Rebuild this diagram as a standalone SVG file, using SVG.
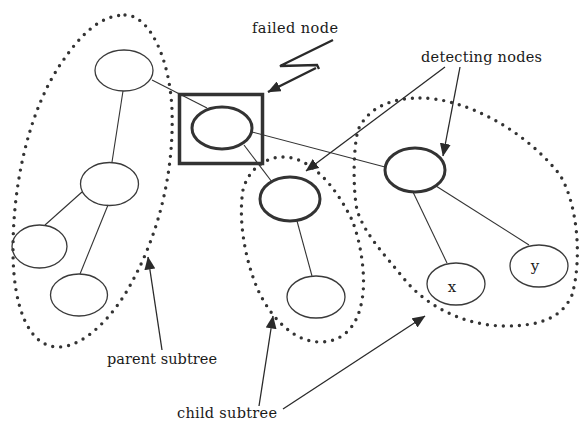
<svg xmlns="http://www.w3.org/2000/svg" width="584" height="421" viewBox="0 0 584 421">
  <style>
    .bg { fill: #ffffff; }
    .node { fill: none; stroke: #3a3a3a; stroke-width: 1.3; }
    .node-bold { fill: none; stroke: #333333; stroke-width: 3; }
    .edge { fill: none; stroke: #333333; stroke-width: 1.1; }
    .pointer { fill: none; stroke: #2a2a2a; stroke-width: 1.3; }
    .subtree { fill: none; stroke: #333333; stroke-width: 3.4; stroke-linecap: round; stroke-dasharray: 0 8; }
    .frame { fill: none; stroke: #333333; stroke-width: 3.5; }
    .bolt { fill: none; stroke: #2a2a2a; stroke-width: 2.4; stroke-linejoin: miter; }
    .label { font-family: "DejaVu Serif", "Liberation Serif", serif; font-size: 14.5px; fill: #1a1a1a; }
    .var { font-family: "DejaVu Serif", "Liberation Serif", serif; font-size: 15px; fill: #1a1a1a; text-anchor: middle; }
  </style>
  <defs>
    <marker id="head" markerUnits="userSpaceOnUse" viewBox="0 0 13 11" markerWidth="13" markerHeight="11" refX="12.5" refY="5.5" orient="auto">
      <path d="M0,0 L13,5.5 L0,11 Z" fill="#2a2a2a"/>
    </marker>
  </defs>

  <rect class="bg" x="0" y="0" width="584" height="421"/>

  <!-- dotted subtree outlines -->
  <g id="subtrees">
    <path id="parent-subtree" class="subtree" d="M125,15 C150,15 170,60 172,110 C174,170 160,230 133,280 C115,315 85,347 58,347 C30,347 13,310 13,250 C13,180 30,110 60,65 C80,35 100,15 125,15 Z"/>
    <path id="child-subtree" class="subtree" d="M283,157 C310,157 335,185 352,220 C362,245 366,280 362,300 C357,330 340,342 320,342 C295,342 272,320 258,290 C245,260 238,220 243,190 C248,170 265,157 283,157 Z"/>
    <path id="right-subtree" class="subtree" d="M420,98 C465,98 525,130 560,175 C578,205 582,260 572,295 C562,318 540,326 505,326 C470,326 430,310 405,280 C385,255 365,235 357,210 C353,190 353,150 358,130 C368,108 390,98 420,98 Z"/>
  </g>

  <!-- tree edges -->
  <g id="connectors">
    <line class="edge" x1="152" y1="80" x2="207" y2="108"/>
    <line class="edge" x1="123" y1="91" x2="112" y2="162"/>
    <line class="edge" x1="82" y1="192" x2="45" y2="225"/>
    <line class="edge" x1="108" y1="205" x2="80" y2="274"/>
    <line class="edge" x1="244" y1="145" x2="272" y2="182"/>
    <line class="edge" x1="252" y1="132" x2="385" y2="167"/>
    <line class="edge" x1="297" y1="221" x2="312" y2="276"/>
    <line class="edge" x1="413" y1="192" x2="447" y2="263"/>
    <line class="edge" x1="436" y1="186" x2="529" y2="245"/>
  </g>

  <!-- tree nodes -->
  <g id="node-a"><ellipse class="node" cx="124" cy="70.5" rx="29" ry="20.5"/></g>
  <g id="node-failed">
    <rect class="frame" x="179.5" y="94.5" width="83" height="69"/>
    <ellipse class="node-bold" cx="222" cy="128" rx="30" ry="21"/>
  </g>
  <g id="node-b"><ellipse class="node" cx="109.5" cy="184" rx="29" ry="21.5"/></g>
  <g id="node-c"><ellipse class="node" cx="39.5" cy="246.5" rx="27.5" ry="21.5"/></g>
  <g id="node-d"><ellipse class="node" cx="79" cy="295" rx="28.5" ry="21"/></g>
  <g id="node-e"><ellipse class="node-bold" cx="290" cy="199" rx="30" ry="22"/></g>
  <g id="node-g"><ellipse class="node-bold" cx="415" cy="170" rx="30" ry="22"/></g>
  <g id="node-h"><ellipse class="node" cx="316" cy="297" rx="29" ry="21"/></g>
  <g id="node-x">
    <ellipse class="node" cx="456" cy="284" rx="29" ry="21"/>
    <text class="var" x="452" y="292">x</text>
  </g>
  <g id="node-y">
    <ellipse class="node" cx="539" cy="266" rx="29" ry="21"/>
    <text class="var" x="535" y="271">y</text>
  </g>

  <!-- annotations -->
  <g id="annotations">
    <text class="label" x="252" y="33" textLength="86">failed node</text>
    <polyline class="bolt" points="333,40 280,66 317,65 319,69"/>
    <line class="bolt" x1="316" y1="68" x2="268" y2="92" marker-end="url(#head)"/>

    <text class="label" x="421" y="62" textLength="121">detecting nodes</text>
    <line class="pointer" x1="445" y1="67" x2="306" y2="171" marker-end="url(#head)"/>
    <line class="pointer" x1="460" y1="67" x2="443" y2="156" marker-end="url(#head)"/>

    <text class="label" x="107" y="364" textLength="110">parent subtree</text>
    <line class="pointer" x1="162" y1="350" x2="148" y2="257" marker-end="url(#head)"/>

    <text class="label" x="177" y="418" textLength="100">child subtree</text>
    <line class="pointer" x1="259" y1="406" x2="273" y2="316" marker-end="url(#head)"/>
    <line class="pointer" x1="283" y1="409" x2="425" y2="316" marker-end="url(#head)"/>
  </g>
</svg>
